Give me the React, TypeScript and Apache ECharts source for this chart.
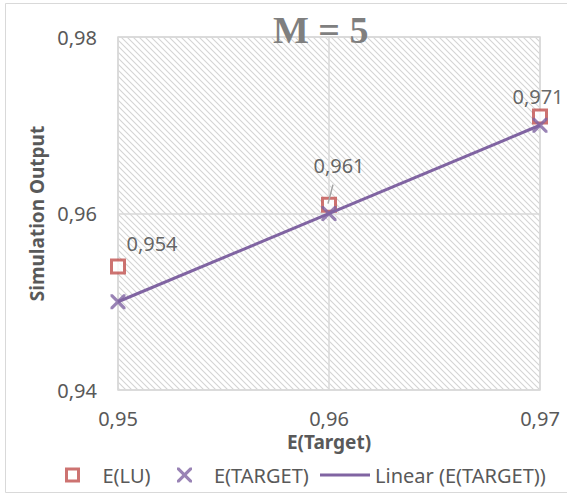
import React, { useEffect, useRef } from 'react';
import * as echarts from 'echarts';

// Data
const xValues = [0.95, 0.96, 0.97];
const luValues = [0.954, 0.961, 0.971];
const targetValues = [0.95, 0.96, 0.97];
const xTicks = { min: 0.95, max: 0.97, interval: 0.01 };
const yTicks = { min: 0.94, max: 0.98, interval: 0.02 };
const seriesNames = ['E(LU)', 'E(TARGET)', 'Linear (E(TARGET))'];
const titleText = 'M = 5';
const xAxisName = 'E(Target)';
const yAxisName = 'Simulation Output';

const FONT = 'Noto Sans';
const RED = '#C0504D';
const PURPLE = '#8064A2';
const GRAY_TEXT = '#595959';
const GRID_LINE = '#d9d9d9';

const CROSS =
  'path://M0,0L1.5,0L5,3.5L8.5,0L10,0L10,1.5L6.5,5L10,8.5L10,10L8.5,10L5,6.5L1.5,10L0,10L0,8.5L3.5,5L0,1.5Z';

// Label nudges for the E(LU) value labels, by point index
const labelNudges = [
  { dx: 34, dy: 0 },
  { dx: 10, dy: -16 },
  { dx: -2, dy: 3 },
];
// Index of the E(LU) point whose label gets a leader line
const leaderIndex = 1;

const comma = (v: number, digits: number) => v.toFixed(digits).replace('.', ',');

// Least-squares fit of the E(TARGET) points
function linearFit(xs: number[], ys: number[]) {
  const n = xs.length;
  const mx = xs.reduce((a, b) => a + b, 0) / n;
  const my = ys.reduce((a, b) => a + b, 0) / n;
  let sxy = 0;
  let sxx = 0;
  for (let i = 0; i < n; i++) {
    sxy += (xs[i] - mx) * (ys[i] - my);
    sxx += (xs[i] - mx) * (xs[i] - mx);
  }
  const slope = sxy / sxx;
  const intercept = my - slope * mx;
  return (x: number) => intercept + slope * x;
}

function makeHatch() {
  const size = 6;
  const c = document.createElement('canvas');
  c.width = size;
  c.height = size;
  const ctx = c.getContext('2d')!;
  ctx.fillStyle = '#ffffff';
  ctx.fillRect(0, 0, size, size);
  ctx.strokeStyle = '#d4d4d4';
  ctx.lineWidth = 1.1;
  ctx.beginPath();
  ctx.moveTo(-1, -1);
  ctx.lineTo(size + 1, size + 1);
  ctx.moveTo(-1, size - 1);
  ctx.lineTo(1, size + 1);
  ctx.moveTo(size - 1, -1);
  ctx.lineTo(size + 1, 1);
  ctx.stroke();
  return c;
}

export default function App() {
  const ref = useRef<HTMLDivElement>(null);

  useEffect(() => {
    if (!ref.current) return;
    const chart = echarts.init(ref.current, undefined, { renderer: 'svg' });
    const fit = linearFit(xValues, targetValues);
    const x0 = Math.min(...xValues);
    const x1 = Math.max(...xValues);
    const hatch = makeHatch();

    const frame = {
      id: 'frame',
      type: 'rect',
      silent: true,
      z: -10,
      shape: { x: 5.5, y: 3.5, width: 600, height: 489 },
      style: { fill: 'none', stroke: GRID_LINE, lineWidth: 1 },
    };

    const option: any = {
      animation: false,
      backgroundColor: '#ffffff',
      title: {
        text: titleText,
        left: 273,
        top: 11,
        padding: 0,
        textStyle: {
          fontFamily: 'Liberation Serif',
          fontWeight: 'bold',
          fontSize: 38,
          color: '#7f7f7f',
        },
      },
      graphic: [frame],
      grid: {
        left: 118,
        right: 27,
        top: 37,
        bottom: 105,
        show: true,
        backgroundColor: { image: hatch, repeat: 'repeat' },
        borderColor: GRID_LINE,
        borderWidth: 1.5,
      },
      xAxis: {
        type: 'value',
        min: xTicks.min,
        max: xTicks.max,
        interval: xTicks.interval,
        name: xAxisName,
        nameLocation: 'middle',
        nameGap: 35,
        nameTextStyle: { fontFamily: FONT, fontWeight: 'bold', fontSize: 19, color: GRAY_TEXT },
        axisLine: { show: false },
        axisTick: { show: false },
        splitLine: { show: true, lineStyle: { color: GRID_LINE, width: 1.5 } },
        axisLabel: {
          margin: 18,
          fontFamily: FONT,
          fontSize: 20,
          color: GRAY_TEXT,
          formatter: (v: number) => comma(v, 2),
        },
      },
      yAxis: {
        type: 'value',
        min: yTicks.min,
        max: yTicks.max,
        interval: yTicks.interval,
        name: yAxisName,
        nameLocation: 'middle',
        nameGap: 72,
        nameTextStyle: { fontFamily: FONT, fontWeight: 'bold', fontSize: 19, color: GRAY_TEXT },
        axisLine: { show: false },
        axisTick: { show: false },
        splitLine: { show: true, lineStyle: { color: GRID_LINE, width: 1.5 } },
        axisLabel: {
          margin: 21,
          fontFamily: FONT,
          fontSize: 20,
          color: GRAY_TEXT,
          formatter: (v: number) => comma(v, 2),
        },
      },
      legend: [
        {
          data: [seriesNames[0]],
          left: 65,
          top: 465,
          padding: 0,
          icon: 'rect',
          itemWidth: 12,
          itemHeight: 12,
          itemStyle: { color: '#ffffff', borderColor: RED, borderWidth: 3 },
          textStyle: { fontFamily: FONT, fontSize: 20, color: GRAY_TEXT, padding: [0, 0, 0, 19] },
        },
        {
          data: [seriesNames[1]],
          left: 177,
          top: 465,
          padding: 0,
          icon: CROSS,
          itemWidth: 15,
          itemHeight: 15,
          itemStyle: { color: PURPLE, borderWidth: 0 },
          textStyle: { fontFamily: FONT, fontSize: 20, color: GRAY_TEXT, padding: [0, 0, 0, 17] },
        },
        {
          data: [seriesNames[2]],
          left: 320,
          top: 465,
          padding: 0,
          icon: 'rect',
          itemWidth: 50,
          itemHeight: 3,
          itemStyle: { color: PURPLE, borderWidth: 0 },
          textStyle: { fontFamily: FONT, fontSize: 20, color: GRAY_TEXT },
        },
      ],
      series: [
        {
          name: seriesNames[0],
          type: 'scatter',
          symbol: 'rect',
          symbolSize: 13,
          itemStyle: { color: '#ffffff', borderColor: RED, borderWidth: 3 },
          label: {
            show: true,
            position: 'top',
            distance: 5,
            fontFamily: FONT,
            fontSize: 20,
            color: '#404040',
            formatter: (p: any) => comma(p.value[1], 3),
          },
          labelLayout: (p: any) => labelNudges[p.dataIndex] || {},
          emphasis: { disabled: true },
          data: xValues.map((x, i) => [x, luValues[i]]),
          z: 2,
        },
        {
          name: seriesNames[2],
          type: 'line',
          showSymbol: false,
          symbol: 'none',
          lineStyle: { color: PURPLE, width: 3 },
          itemStyle: { color: PURPLE },
          emphasis: { disabled: true },
          data: [
            [x0, fit(x0)],
            [x1, fit(x1)],
          ],
          z: 3,
        },
        {
          name: seriesNames[1],
          type: 'scatter',
          symbol: CROSS,
          symbolSize: 15,
          itemStyle: { color: PURPLE },
          emphasis: { disabled: true },
          data: xValues.map((x, i) => [x, targetValues[i]]),
          z: 4,
        },
      ],
    };

    chart.setOption(option);

    // Leader line from the middle E(LU) marker up to its moved label
    const anchor = chart.convertToPixel({ gridIndex: 0 }, [xValues[leaderIndex], luValues[leaderIndex]]) as number[];
    if (anchor) {
      chart.setOption({
        graphic: [
          frame,
          {
            id: 'leader',
            type: 'line',
            silent: true,
            z: 3,
            shape: { x1: anchor[0] - 1, y1: anchor[1] - 1, x2: anchor[0] + 4, y2: anchor[1] - 20 },
            style: { stroke: '#a6a6a6', lineWidth: 1.5 },
          },
        ],
      });
    }

    return () => chart.dispose();
  }, []);

  return (
    <div
      ref={ref}
      style={{ position: 'absolute', left: 0, top: 0, width: 567, height: 495 }}
    />
  );
}
